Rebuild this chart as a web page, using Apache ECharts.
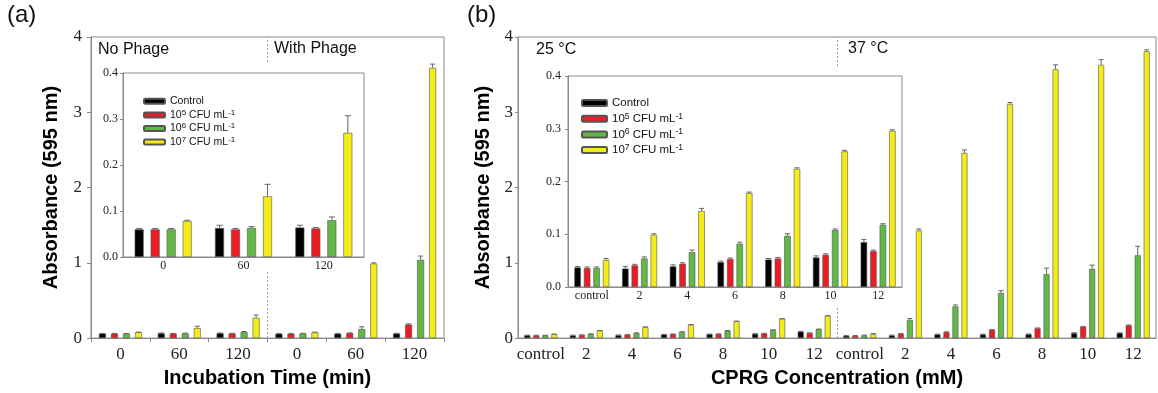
<!DOCTYPE html>
<html><head><meta charset="utf-8">
<script src="https://cdn.jsdelivr.net/npm/echarts@6/dist/echarts.min.js"></script>
<style>html,body{margin:0;padding:0;background:#fff}#c{width:1158px;height:393px}</style>
</head><body><div id="c"></div>
<script>
// ---------- data ----------
const seriesNames = ['Control', '10^5 CFU mL^-1', '10^6 CFU mL^-1', '10^7 CFU mL^-1'];
const barColors = ['#000000', '#ec1c24', '#62b846', '#f4ec18'];

// Panel (a): No Phage (0,60,120) then With Phage (0,60,120)
const timeLabels = ['0', '60', '120', '0', '60', '120'];
const insetTimeLabels = ['0', '60', '120'];
const ctrlA = [0.060, 0.063, 0.064, 0.057, 0.057, 0.060];
const e5A   = [0.060, 0.060, 0.062, 0.058, 0.065, 0.180];
const e6A   = [0.060, 0.063, 0.080, 0.060, 0.120, 1.040];
const e7A   = [0.078, 0.132, 0.270, 0.075, 0.990, 3.590];
const ctrlAErr = [0.002, 0.006, 0.005, 0.004, 0.004, 0.005];
const e5AErr   = [0.002, 0.002, 0.002, 0.004, 0.005, 0.010];
const e6AErr   = [0.002, 0.003, 0.007, 0.004, 0.030, 0.050];
const e7AErr   = [0.002, 0.026, 0.037, 0.005, 0.010, 0.050];

// Panel (b): 25 °C then 37 °C
const cprgLabels = ['control', '2', '4', '6', '8', '10', '12'];
const ctrl25 = [0.037, 0.035, 0.039, 0.047, 0.052, 0.056, 0.085];
const e5_25  = [0.036, 0.041, 0.044, 0.053, 0.054, 0.061, 0.068];
const e6_25  = [0.036, 0.054, 0.066, 0.082, 0.097, 0.108, 0.118];
const e7_25  = [0.051, 0.099, 0.144, 0.178, 0.224, 0.257, 0.296];
const ctrl25Err = [0.002, 0.004, 0.003, 0.002, 0.002, 0.003, 0.005];
const e5_25Err  = [0.002, 0.002, 0.002, 0.002, 0.002, 0.002, 0.002];
const e6_25Err  = [0.002, 0.003, 0.004, 0.003, 0.004, 0.002, 0.002];
const e7_25Err  = [0.003, 0.002, 0.005, 0.002, 0.002, 0.002, 0.002];
const ctrl37 = [0.030, 0.035, 0.048, 0.048, 0.050, 0.066, 0.066];
const e5_37  = [0.030, 0.057, 0.079, 0.110, 0.130, 0.150, 0.170];
const e6_37  = [0.035, 0.240, 0.420, 0.600, 0.850, 0.920, 1.100];
const e7_37  = [0.050, 1.430, 2.460, 3.110, 3.570, 3.630, 3.810];
const ctrl37Err = [0.005, 0.005, 0.005, 0.005, 0.005, 0.005, 0.005];
const e5_37Err  = [0.005, 0.005, 0.005, 0.005, 0.005, 0.005, 0.005];
const e6_37Err  = [0.005, 0.020, 0.020, 0.030, 0.080, 0.050, 0.120];
const e7_37Err  = [0.010, 0.020, 0.040, 0.020, 0.060, 0.070, 0.020];

const mainYTicks = [0, 1, 2, 3, 4];
const insetYTicks = [0, 0.1, 0.2, 0.3, 0.4];

// ---------- build ----------
const mainA = [ctrlA, e5A, e6A, e7A];
const mainAErr = [ctrlAErr, e5AErr, e6AErr, e7AErr];
const insetA = mainA.map(a => a.slice(0, 3));
const insetAErr = mainAErr.map(a => a.slice(0, 3));
const b25 = [ctrl25, e5_25, e6_25, e7_25];
const b25Err = [ctrl25Err, e5_25Err, e6_25Err, e7_25Err];
const b37 = [ctrl37, e5_37, e6_37, e7_37];
const b37Err = [ctrl37Err, e5_37Err, e6_37Err, e7_37Err];
const mainB = b25.map((a, i) => a.concat(b37[i]));
const mainBErr = b25Err.map((a, i) => a.concat(b37Err[i]));
const mainBLabels = cprgLabels.concat(cprgLabels);

const SERIF = 'Liberation Serif';
const SANS = 'Liberation Sans';
const AX = '#8a8a8a';

function bars(arrs, xi, yi, bw, gap, z) {
  return arrs.map((d, s) => ({
    type: 'bar', name: seriesNames[s], xAxisIndex: xi, yAxisIndex: yi,
    data: d, barWidth: bw, barGap: (gap / bw * 100) + '%', z: z,
    itemStyle: { color: barColors[s], borderColor: '#555', borderWidth: 0.6 },
    silent: true, animation: false
  }));
}
function errs(arrs, errArrs, xi, yi, bw, gap, z, cap) {
  const data = [];
  arrs.forEach((d, s) => d.forEach((v, c) => data.push([c, v, errArrs[s][c], s])));
  const groupW = 4 * bw + 3 * gap;
  return {
    type: 'custom', xAxisIndex: xi, yAxisIndex: yi, z: z, silent: true, animation: false,
    encode: { x: 0, y: 1 },
    data: data,
    renderItem: function (params, api) {
      const c = api.value(0), v = api.value(1), e = api.value(2), s = api.value(3);
      const base = api.coord([c, v]);
      const top = api.coord([c, v + e]);
      const x = base[0] - groupW / 2 + bw / 2 + s * (bw + gap);
      const st = { stroke: '#666', lineWidth: 1 };
      return { type: 'group', children: [
        { type: 'line', shape: { x1: x, y1: base[1], x2: x, y2: top[1] }, style: st },
        { type: 'line', shape: { x1: x - cap, y1: top[1], x2: x + cap, y2: top[1] }, style: st }
      ]};
    }
  };
}
function legendFmt(name) { return name.replace(/\^(-?\d+)/g, '{sup|$1}'); }

const chart = echarts.init(document.getElementById('c'), null, { renderer: 'canvas' });

const option = {
  backgroundColor: '#fff',
  animation: false,
  grid: [
    { left: 91, top: 37, width: 353, height: 304, show: true, borderColor: AX, borderWidth: 1, backgroundColor: 'transparent' },
    { left: 123, top: 73, width: 241, height: 184, show: true, borderColor: AX, borderWidth: 1, z: 65, backgroundColor: 'transparent' },
    { left: 518, top: 37, width: 638, height: 304, show: true, borderColor: AX, borderWidth: 1, backgroundColor: 'transparent' },
    { left: 568, top: 76, width: 334, height: 211, show: true, borderColor: AX, borderWidth: 1, z: 65, backgroundColor: 'transparent' }
  ],
  xAxis: [
    { type: 'category', gridIndex: 0, data: timeLabels,
      axisLine: { lineStyle: { color: AX } }, axisTick: { show: true, length: 4, lineStyle: { color: AX } },
      axisLabel: { fontFamily: SERIF, fontSize: 17, color: '#222', margin: 8 },
      name: 'Incubation Time (min)', nameLocation: 'middle', nameGap: 29,
      nameTextStyle: { fontFamily: SANS, fontWeight: 'bold', fontSize: 20, color: '#000' } },
    { type: 'value', gridIndex: 0, min: 0, max: 6, show: false },
    { type: 'category', gridIndex: 1, data: insetTimeLabels, z: 70,
      axisLine: { lineStyle: { color: AX } }, axisTick: { show: false },
      axisLabel: { fontFamily: SERIF, fontSize: 12, color: '#222', margin: 3 } },
    { type: 'category', gridIndex: 2, data: mainBLabels,
      axisLine: { lineStyle: { color: AX } }, axisTick: { show: false },
      axisLabel: { fontFamily: SERIF, fontSize: 17, color: '#222', margin: 8, interval: 0 },
      name: 'CPRG Concentration (mM)', nameLocation: 'middle', nameGap: 29,
      nameTextStyle: { fontFamily: SANS, fontWeight: 'bold', fontSize: 20, color: '#000' } },
    { type: 'value', gridIndex: 2, min: 0, max: 14, show: false },
    { type: 'category', gridIndex: 3, data: cprgLabels, z: 70,
      axisLine: { lineStyle: { color: AX } }, axisTick: { show: false },
      axisLabel: { fontFamily: SERIF, fontSize: 12, color: '#222', margin: 3, interval: 0 } }
  ],
  yAxis: [
    { type: 'value', gridIndex: 0, min: mainYTicks[0], max: mainYTicks[mainYTicks.length - 1], interval: 1,
      splitLine: { show: false }, axisLine: { show: true, lineStyle: { color: AX } },
      axisTick: { show: true, length: 4, lineStyle: { color: AX } },
      axisLabel: { fontFamily: SERIF, fontSize: 17, color: '#222', margin: 9 },
      name: 'Absorbance (595 nm)', nameLocation: 'middle', nameGap: 30,
      nameTextStyle: { fontFamily: SANS, fontWeight: 'bold', fontSize: 20, color: '#000' } },
    { type: 'value', gridIndex: 1, min: insetYTicks[0], max: insetYTicks[insetYTicks.length - 1], interval: 0.1, z: 70,
      splitLine: { show: false }, axisLine: { show: true, lineStyle: { color: AX } },
      axisTick: { show: true, length: 3, lineStyle: { color: AX } },
      axisLabel: { fontFamily: SERIF, fontSize: 12, color: '#222', margin: 5, formatter: v => v.toFixed(1) } },
    { type: 'value', gridIndex: 2, min: mainYTicks[0], max: mainYTicks[mainYTicks.length - 1], interval: 1,
      splitLine: { show: false }, axisLine: { show: true, lineStyle: { color: AX } },
      axisTick: { show: true, length: 3, lineStyle: { color: AX } },
      axisLabel: { fontFamily: SERIF, fontSize: 17, color: '#222', margin: 5 },
      name: 'Absorbance (595 nm)', nameLocation: 'middle', nameGap: 20,
      nameTextStyle: { fontFamily: SANS, fontWeight: 'bold', fontSize: 20, color: '#000' } },
    { type: 'value', gridIndex: 3, min: insetYTicks[0], max: insetYTicks[insetYTicks.length - 1], interval: 0.1, z: 70,
      splitLine: { show: false }, axisLine: { show: true, lineStyle: { color: AX } },
      axisTick: { show: true, length: 3, lineStyle: { color: AX } },
      axisLabel: { fontFamily: SERIF, fontSize: 12, color: '#222', margin: 7, formatter: v => v.toFixed(1) } }
  ],
  legend: [
    { orient: 'vertical', left: 138, top: 90, padding: 5, itemWidth: 21, itemHeight: 5, itemGap: 1, z: 75,
      data: seriesNames, formatter: legendFmt, selectedMode: false,
      textStyle: { fontFamily: SANS, fontSize: 10.5, color: '#111', lineHeight: 12.6,
        rich: { sup: { fontFamily: SANS, fontSize: 8, lineHeight: 12.6, verticalAlign: 'top', color: '#111' } } } },
    { orient: 'vertical', left: 576, top: 91, padding: 5, itemWidth: 25, itemHeight: 6, itemGap: 1.7, z: 75,
      data: seriesNames, formatter: legendFmt, selectedMode: false,
      textStyle: { fontFamily: SANS, fontSize: 11.5, color: '#111', lineHeight: 14,
        rich: { sup: { fontFamily: SANS, fontSize: 8.5, lineHeight: 14, verticalAlign: 'top', color: '#111' } } } }
  ],
  graphic: [
    { type: 'rect', z: 50, silent: true, shape: { x: 98, y: 64, width: 270, height: 206 }, style: { fill: '#fff' } },
    { type: 'rect', z: 50, silent: true, shape: { x: 540, y: 66, width: 365, height: 240 }, style: { fill: '#fff' } },
    { type: 'text', z: 80, left: 7, top: 3, style: { text: '(a)', font: '24px "Liberation Sans"', fill: '#111' } },
    { type: 'text', z: 80, left: 467, top: 3, style: { text: '(b)', font: '24px "Liberation Sans"', fill: '#111' } },
    { type: 'text', z: 80, left: 98, top: 42, style: { text: 'No Phage', font: '16px "Liberation Sans"', fill: '#111' } },
    { type: 'text', z: 80, left: 274, top: 41, style: { text: 'With Phage', font: '16px "Liberation Sans"', fill: '#111' } },
    { type: 'text', z: 80, left: 536, top: 42, style: { text: '25 °C', font: '16px "Liberation Sans"', fill: '#111' } },
    { type: 'text', z: 80, left: 848, top: 41, style: { text: '37 °C', font: '16px "Liberation Sans"', fill: '#111' } }
  ],
  series: [].concat(
    bars(mainA, 0, 0, 7, 5, 2),
    [errs(mainA, mainAErr, 0, 0, 7, 5, 3, 2.5)],
    bars(insetA, 2, 1, 9, 7, 70),
    [errs(insetA, insetAErr, 2, 1, 9, 7, 71, 3)],
    bars(mainB, 3, 2, 6, 3, 2),
    [errs(mainB, mainBErr, 3, 2, 6, 3, 3, 2.5)],
    bars(b25, 5, 3, 6.5, 3, 70),
    [errs(b25, b25Err, 5, 3, 6.5, 3, 71, 2.5)],
    [
      { type: 'line', xAxisIndex: 1, yAxisIndex: 0, data: [[timeLabels.length / 2, 0]], symbol: 'none',
        lineStyle: { opacity: 0 }, silent: true, z: 1,
        markLine: { silent: true, symbol: ['none', 'none'], label: { show: false }, animation: false,
          lineStyle: { color: '#999', type: [2, 2], width: 1 }, data: [{ xAxis: timeLabels.length / 2 }] } },
      { type: 'line', xAxisIndex: 4, yAxisIndex: 2, data: [[mainBLabels.length / 2, 0]], symbol: 'none',
        lineStyle: { opacity: 0 }, silent: true, z: 1,
        markLine: { silent: true, symbol: ['none', 'none'], label: { show: false }, animation: false,
          lineStyle: { color: '#999', type: [2, 2], width: 1 }, data: [{ xAxis: mainBLabels.length / 2 }] } }
    ]
  )
};
chart.setOption(option);
</script>
</body></html>
